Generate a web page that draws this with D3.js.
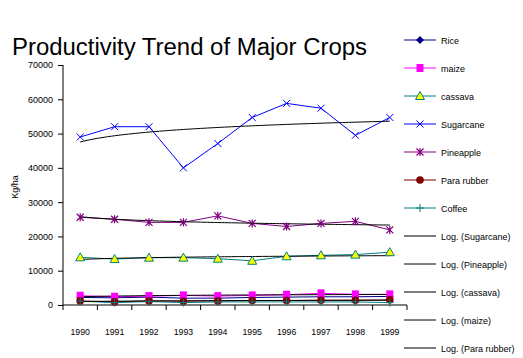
<!DOCTYPE html>
<html><head><meta charset="utf-8">
<script src="https://cdn.jsdelivr.net/npm/d3@7"></script>
<style>body{margin:0;background:#fff}svg{display:block}text{font-family:"Liberation Sans",Arial,sans-serif}</style>
</head><body>
<svg id="c" width="523" height="358"></svg>
<script>
const years = ["1990","1991","1992","1993","1994","1995","1996","1997","1998","1999"];
const rice      = [2200,2100,2300,2000,2000,2200,2300,2400,2400,2500];
const maize     = [2700,2400,2600,2800,2600,2800,3000,3400,3100,3100];
const cassava   = [13900,13400,13800,13800,13500,12900,14200,14500,14700,15400];
const sugarcane = [49000,52000,52000,40000,47100,54700,58800,57400,49500,54700];
const pineapple = [25600,25000,24100,24100,26000,23800,22900,23800,24400,21900];
const rubber    = [1200,900,1200,1100,1200,1300,1300,1400,1400,1500];
const coffee    = [1100,700,1000,700,900,900,900,900,900,700];
const yTicks = [0,10000,20000,30000,40000,50000,60000,70000];

const series = [
  {name:"Rice", data:rice, color:"#000080", marker:"diamond"},
  {name:"maize", data:maize, color:"#FF00FF", marker:"square"},
  {name:"cassava", data:cassava, color:"#008080", marker:"triangle"},
  {name:"Sugarcane", data:sugarcane, color:"#0000FF", marker:"x"},
  {name:"Pineapple", data:pineapple, color:"#800080", marker:"star"},
  {name:"Para rubber", data:rubber, color:"#800000", marker:"circle"},
  {name:"Coffee", data:coffee, color:"#008080", marker:"plus"}
];
const trends = [
  {name:"Log. (Sugarcane)", data:sugarcane},
  {name:"Log. (Pineapple)", data:pineapple},
  {name:"Log. (cassava)", data:cassava},
  {name:"Log. (maize)", data:maize},
  {name:"Log. (Para rubber)", data:rubber}
];

const svg = d3.select("#c");
const x = d3.scaleBand().domain(years).range([63,407]);
const y = d3.scaleLinear().domain([0,70000]).range([305,65]);
const cx = d => x(d) + x.bandwidth()/2;

// title
svg.append("text").attr("x",12).attr("y",55).attr("font-size",23)
  .attr("textLength",355).attr("lengthAdjust","spacingAndGlyphs")
  .text("Productivity Trend of Major Crops");

// y axis
const ya = svg.append("g").attr("transform","translate(63,0)")
  .call(d3.axisLeft(y).tickValues(yTicks).tickSize(5).tickPadding(5).tickFormat(d3.format("d")));
ya.select(".domain").attr("d","M0,65V305").attr("stroke","#000");
ya.selectAll("text").attr("font-size",9).attr("font-family","Liberation Sans, Arial").attr("fill","#000");
svg.append("text").attr("transform","translate(18,187) rotate(-90)").attr("text-anchor","middle")
  .attr("font-size",9).text("Kg/ha");

// x axis
const xa = svg.append("g").attr("transform","translate(0,305)");
xa.append("line").attr("x1",63).attr("x2",407).attr("stroke","#000");
const edges = years.map(d=>x(d)).concat([407]);
xa.selectAll("line.t").data(edges).join("line").attr("class","t")
  .attr("x1",d=>d).attr("x2",d=>d).attr("y1",0).attr("y2",5).attr("stroke","#000");
xa.selectAll("text").data(years).join("text").attr("x",d=>cx(d)).attr("y",30)
  .attr("text-anchor","middle").attr("font-size",8.7).text(d=>d);

// lines
const line = d3.line().x((d,i)=>cx(years[i])).y(d=>y(d));
series.forEach(s=>{
  svg.append("path").attr("d",line(s.data)).attr("fill","none").attr("stroke",s.color).attr("stroke-width",1);
});

// log trendlines (least-squares fit y = a + b ln(x))
function logFit(data){
  const lx=data.map((d,i)=>Math.log(i+1));
  const mx=d3.mean(lx), my=d3.mean(data);
  let sxy=0,sxx=0; lx.forEach((v,i)=>{sxy+=(v-mx)*(data[i]-my); sxx+=(v-mx)*(v-mx);});
  const b=sxy/sxx, a=my-b*mx; return t=>a+b*Math.log(t);
}
const xi = d3.scaleLinear().domain([1,10]).range([cx(years[0]),cx(years[9])]);
trends.forEach(t=>{
  const f=logFit(t.data);
  const pts=d3.range(1,10.001,0.1).map(v=>[xi(v),y(f(v))]);
  svg.append("path").attr("d",d3.line()(pts)).attr("fill","none").attr("stroke","#000").attr("stroke-width",1);
});

// markers
function drawMarker(g,type,color,px,py){
  if(type==="diamond") g.append("path").attr("d",`M${px},${py-4}L${px+4},${py}L${px},${py+4}L${px-4},${py}Z`).attr("fill",color);
  else if(type==="square") g.append("rect").attr("x",px-3.5).attr("y",py-4).attr("width",7).attr("height",8).attr("fill",color);
  else if(type==="triangle") g.append("path").attr("d",`M${px},${py-4.5}L${px+4.5},${py+3.5}L${px-4.5},${py+3.5}Z`).attr("fill","#FFFF00").attr("stroke","#008080").attr("stroke-width",1);
  else if(type==="x") g.append("path").attr("d",`M${px-3.5},${py-3.5}L${px+3.5},${py+3.5}M${px+3.5},${py-3.5}L${px-3.5},${py+3.5}`).attr("stroke",color).attr("stroke-width",1);
  else if(type==="star") g.append("path").attr("d",`M${px-3.5},${py-3.5}L${px+3.5},${py+3.5}M${px+3.5},${py-3.5}L${px-3.5},${py+3.5}M${px},${py-4}L${px},${py+4}`).attr("stroke",color).attr("stroke-width",1.2);
  else if(type==="circle") g.append("circle").attr("cx",px).attr("cy",py).attr("r",3.8).attr("fill",color);
  else if(type==="plus") g.append("path").attr("d",`M${px-4},${py}L${px+4},${py}M${px},${py-4}L${px},${py+4}`).attr("stroke",color).attr("stroke-width",1);
}
series.forEach(s=>{
  const g=svg.append("g");
  s.data.forEach((v,i)=>drawMarker(g,s.marker,s.color,cx(years[i]),y(v)));
});

// legend
const leg = svg.append("g");
series.forEach((s,i)=>{
  const ly=40+i*28;
  leg.append("line").attr("x1",404).attr("x2",436).attr("y1",ly).attr("y2",ly).attr("stroke",s.color);
  drawMarker(leg,s.marker,s.color,420,ly);
  leg.append("text").attr("x",441).attr("y",ly+3.5).attr("font-size",9).text(s.name);
});
trends.forEach((t,j)=>{
  const ly=40+(7+j)*28;
  leg.append("line").attr("x1",404).attr("x2",436).attr("y1",ly).attr("y2",ly).attr("stroke","#000");
  leg.append("text").attr("x",441).attr("y",ly+3.5).attr("font-size",9).text(t.name);
});
</script>
</body></html>
